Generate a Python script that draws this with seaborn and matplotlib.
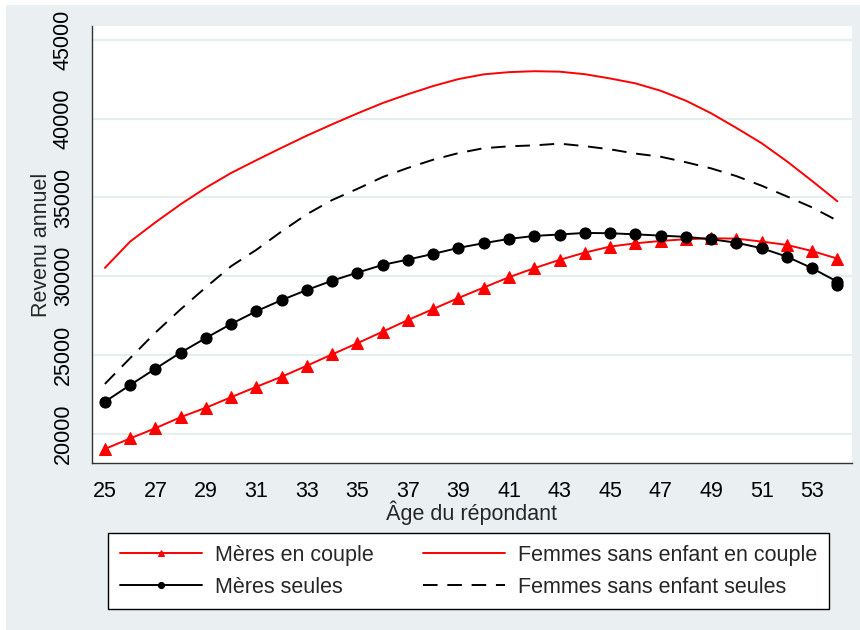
import pandas as pd
import seaborn as sns
import matplotlib.pyplot as plt
from matplotlib.patches import Rectangle

# Revenu annuel par âge
ages = list(range(25, 55))

meres_couple = [19030, 19700, 20350, 21050, 21650, 22320, 22980, 23620, 24320, 25040,
                25750, 26480, 27220, 27920, 28620, 29280, 29940, 30510, 31040, 31500,
                31880, 32090, 32240, 32350, 32410, 32390, 32200, 31990, 31600, 31120]

# la dernière année apparaît deux fois (deux points à 54 ans)
ages_seules = ages + [54]
meres_seules = [22030, 23090, 24130, 25150, 26080, 26970, 27780, 28490, 29130, 29720,
                30230, 30720, 31060, 31420, 31800, 32100, 32370, 32560, 32650, 32750,
                32730, 32660, 32580, 32500, 32350, 32130, 31780, 31245, 30510, 29650,
                29430]

femmes_couple = [30530, 32200, 33420, 34570, 35620, 36560, 37370, 38160, 38930, 39650,
                 40340, 41000, 41560, 42080, 42520, 42820, 42960, 43020, 42990, 42830,
                 42560, 42250, 41780, 41150, 40350, 39420, 38450, 37300, 36050, 34760]

femmes_seules = [23160, 24800, 26420, 27900, 29300, 30640, 31680, 32850, 33940, 34840,
                 35550, 36300, 36880, 37400, 37820, 38130, 38250, 38310, 38420, 38260,
                 38060, 37790, 37590, 37240, 36850, 36360, 35750, 35070, 34370, 33530]

yticks = [20000, 25000, 30000, 35000, 40000, 45000]
xticks = list(range(25, 55, 2))

sns.set_style("white")
plt.rcParams['font.family'] = ['Liberation Sans', 'DejaVu Sans']

bg = "#eaf0f2"
fig = plt.figure(figsize=(8.6, 6.3), dpi=100, facecolor="white")
fig.patches.append(Rectangle((6 / 860, 0), 1, 1 - 5 / 630, transform=fig.transFigure,
                             facecolor=bg, edgecolor="none", zorder=-10))
ax = fig.add_axes([92 / 860, 1 - 463 / 630, 760 / 860, 437 / 630])
ax.set_facecolor("white")

sns.lineplot(x=ages, y=meres_couple, ax=ax, color="red", lw=1.4, marker="^",
             markersize=8.5, markeredgecolor="red", label="Mères en couple")
sns.lineplot(x=ages, y=femmes_couple, ax=ax, color="red", lw=1.4,
             label="Femmes sans enfant en couple")
sns.lineplot(x=ages_seules, y=meres_seules, ax=ax, color="black", lw=1.4, marker="o",
             markersize=8, markeredgecolor="black", estimator=None, sort=False,
             label="Mères seules")
sns.lineplot(x=ages, y=femmes_seules, ax=ax, color="black", lw=1.4,
             dashes=[(7.5, 5)], style=[0] * len(ages), legend=False)
ax.lines[-1].set_label("Femmes sans enfant seules")

ax.set_xlim(24.49, 54.58)
ax.set_ylim(18140, 45890)
ax.set_xticks(xticks)
ax.set_yticks(yticks)
ax.set_yticklabels([str(v) for v in yticks], rotation=90, va="center")
ax.tick_params(axis="both", direction="out", length=9, width=1, color="#333333",
               labelsize=15.5, labelcolor="black", pad=4)
ax.grid(axis="y", color="#e6eef0", lw=1.5)
ax.grid(axis="x", visible=False)
ax.set_axisbelow(True)
for s in ["top", "right"]:
    ax.spines[s].set_visible(False)
for s in ["left", "bottom"]:
    ax.spines[s].set_color("#333333")
    ax.spines[s].set_linewidth(1)

ax.set_xlabel("Âge du répondant", fontsize=15.5, labelpad=-1)
ax.set_ylabel("Revenu annuel", fontsize=15.5, labelpad=1)

ax.get_legend().remove()
handles, labels = ax.get_legend_handles_labels()
order = ["Mères en couple", "Mères seules", "Femmes sans enfant en couple",
         "Femmes sans enfant seules"]
hmap = dict(zip(labels, handles))
hmap["Femmes sans enfant seules"] = ax.lines[-1]
leg = fig.legend([hmap[k] for k in order], order, ncol=2, loc="upper left",
                 bbox_to_anchor=(108 / 860, 1 - 533 / 630),
                 fontsize=15.5, frameon=True, fancybox=False,
                 edgecolor="black", facecolor="white", framealpha=1,
                 handlelength=3.8, handletextpad=0.6, labelspacing=0.5,
                 borderpad=0.55, borderaxespad=0, columnspacing=2.3,
                 markerscale=0.55)
leg.get_frame().set_linewidth(1)

fig.savefig("out.png", dpi=100, facecolor=fig.get_facecolor())
